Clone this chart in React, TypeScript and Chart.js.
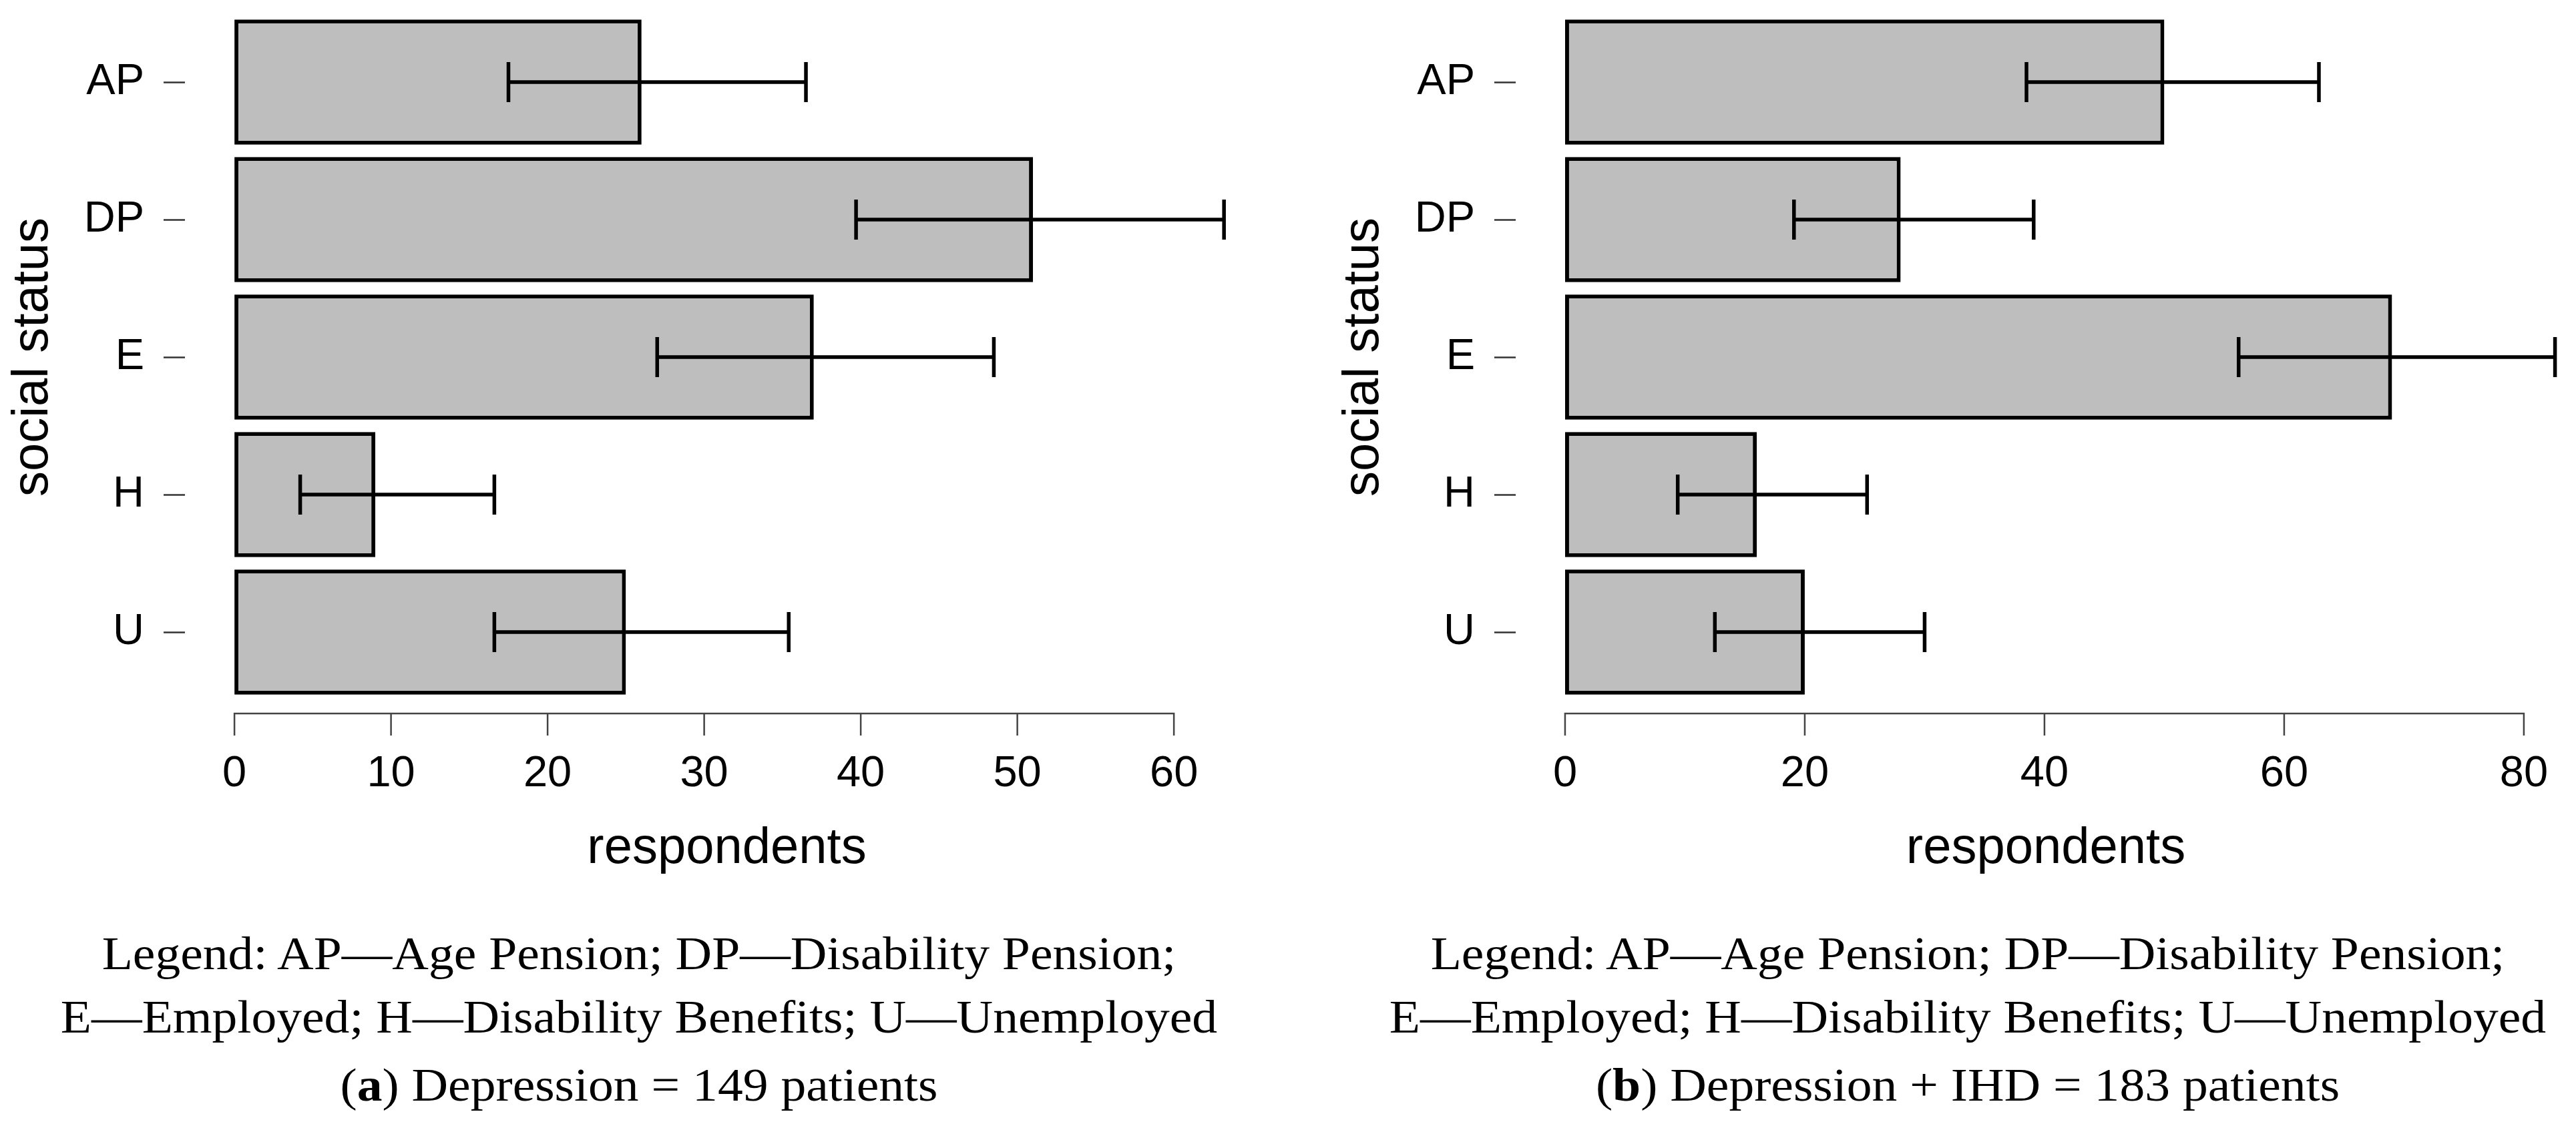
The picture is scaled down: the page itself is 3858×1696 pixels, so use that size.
import React, { useEffect, useRef } from "react";
import { Chart, registerables } from "chart.js";

Chart.register(...registerables);

// ---------- data ----------
const categories = ["AP", "DP", "E", "H", "U"];

const depressionCounts = [26, 51, 37, 9, 25];
const depressionLower = [17.5, 39.7, 27.0, 4.2, 16.6];
const depressionUpper = [36.5, 63.2, 48.5, 16.6, 35.4];
const depressionTicks = [0, 10, 20, 30, 40, 50, 60];

const comorbidCounts = [50, 28, 69, 16, 20];
const comorbidLower = [38.5, 19.1, 56.2, 9.4, 12.5];
const comorbidUpper = [62.9, 39.1, 82.6, 25.2, 30.0];
const comorbidTicks = [0, 20, 40, 60, 80];

const yAxisTitle = "social status";
const xAxisTitle = "respondents";
const legendLine1 = "Legend: AP\u2014Age Pension; DP\u2014Disability Pension;";
const legendLine2 = "E\u2014Employed; H\u2014Disability Benefits; U\u2014Unemployed";
const captionA = { tag: "a", text: " Depression = 149 patients" };
const captionB = { tag: "b", text: " Depression + IHD = 183 patients" };

// ---------- plugins ----------
const rAxisPlugin = {
  id: "rAxis",
  afterDraw(chart: any, _args: any, opts: any) {
    const { ctx, chartArea } = chart;
    const xs = chart.scales.x;
    const ticks = xs.ticks;
    if (!ticks || !ticks.length) return;
    const y0 = chartArea.bottom + opts.gap;
    const p0 = xs.getPixelForValue(ticks[0].value);
    const p1 = xs.getPixelForValue(ticks[ticks.length - 1].value);
    ctx.save();
    ctx.strokeStyle = opts.color;
    ctx.lineWidth = opts.width;
    ctx.beginPath();
    ctx.moveTo(p0 - opts.width / 2, y0);
    ctx.lineTo(p1 + opts.width / 2, y0);
    for (const t of ticks) {
      const p = xs.getPixelForValue(t.value);
      ctx.moveTo(p, y0);
      ctx.lineTo(p, y0 + opts.len);
    }
    ctx.stroke();
    ctx.restore();
  },
};

const errorBarPlugin = {
  id: "errorBars",
  afterDatasetsDraw(chart: any, _args: any, opts: any) {
    const { ctx } = chart;
    const xs = chart.scales.x;
    const meta = chart.getDatasetMeta(0);
    ctx.save();
    ctx.strokeStyle = opts.color;
    ctx.lineWidth = opts.width;
    ctx.lineCap = "butt";
    meta.data.forEach((el: any, i: number) => {
      const y = el.y;
      const a = xs.getPixelForValue(opts.lower[i]);
      const b = xs.getPixelForValue(opts.upper[i]);
      ctx.beginPath();
      ctx.moveTo(a, y);
      ctx.lineTo(b, y);
      ctx.moveTo(a, y - opts.cap);
      ctx.lineTo(a, y + opts.cap);
      ctx.moveTo(b, y - opts.cap);
      ctx.lineTo(b, y + opts.cap);
      ctx.stroke();
    });
    ctx.restore();
  },
};

const SANS = "'Liberation Sans', Arial, Helvetica, sans-serif";

type PanelProps = {
  counts: number[];
  lower: number[];
  upper: number[];
  ticks: number[];
  min: number;
  max: number;
  left: number;
  width: number;
};

const CANVAS_H = 1318;

function Panel({ counts, lower, upper, ticks, min, max, left, width }: PanelProps) {
  const ref = useRef<HTMLCanvasElement | null>(null);
  useEffect(() => {
    if (!ref.current) return;
    const chart = new Chart(ref.current, {
      type: "bar",
      data: {
        labels: categories,
        datasets: [
          {
            data: counts,
            backgroundColor: "#bebebe",
            borderColor: "#000000",
            borderWidth: 6,
            borderSkipped: false,
            barPercentage: 0.91,
            categoryPercentage: 1,
          },
        ],
      },
      options: {
        indexAxis: "y",
        animation: false,
        responsive: false,
        maintainAspectRatio: false,
        devicePixelRatio: 1,
        layout: { padding: { top: 20, left: 0, right: 0, bottom: 0 } },
        events: [],
        plugins: {
          legend: { display: false },
          tooltip: { enabled: false },
          title: { display: false },
          errorBars: { lower, upper, color: "#000000", width: 5.5, cap: 30 },
          rAxis: { gap: 19, len: 33, width: 2.5, color: "#444444" },
        } as any,
        scales: {
          x: {
            type: "linear",
            min,
            max,
            afterBuildTicks: (scale: any) => {
              scale.ticks = ticks.map((v) => ({ value: v }));
            },
            afterFit: (scale: any) => {
              scale.height = CANVAS_H - 1050;
              scale.paddingLeft = 0;
              scale.paddingRight = 0;
            },
            grid: { display: false },
            border: { display: false },
            ticks: {
              color: "#000000",
              font: { family: SANS, size: 65 },
              padding: 63,
              maxRotation: 0,
              autoSkip: false,
            },
            title: {
              display: true,
              text: xAxisTitle,
              color: "#000000",
              font: { family: SANS, size: 76 },
              padding: { top: 0, bottom: 0 },
            },
          },
          y: {
            type: "category",
            afterFit: (scale: any) => {
              scale.width = 277;
              scale.paddingTop = 0;
              scale.paddingBottom = 0;
            },
            grid: {
              display: true,
              offset: false,
              drawOnChartArea: false,
              drawTicks: true,
              tickLength: 32,
              tickWidth: 2.5,
              tickColor: "#333333",
            },
            border: { display: false },
            ticks: {
              color: "#000000",
              font: { family: SANS, size: 65 },
              padding: 29,
            },
            title: {
              display: true,
              text: yAxisTitle,
              color: "#000000",
              font: { family: SANS, size: 76 },
              padding: { top: 4, bottom: 0 },
            },
          },
        },
      },
      plugins: [errorBarPlugin, rAxisPlugin],
    } as any);
    return () => chart.destroy();
  }, []);
  return (
    <canvas
      ref={ref}
      width={width}
      height={CANVAS_H}
      style={{ position: "absolute", left, top: 0, width, height: CANVAS_H }}
    />
  );
}

const SERIF = "'Liberation Serif', 'Times New Roman', serif";
const CAP_SIZE = 70;

function CaptionLine({ center, baseline, children }: { center: number; baseline: number; children: React.ReactNode }) {
  return (
    <div
      style={{
        position: "absolute",
        left: center - 1000,
        width: 2000,
        top: baseline - 0.8375 * CAP_SIZE,
        textAlign: "center",
        fontFamily: SERIF,
        fontSize: CAP_SIZE,
        lineHeight: `${CAP_SIZE}px`,
        color: "#000",
        whiteSpace: "nowrap",
        transform: "scaleX(1.08)",
        transformOrigin: "center",
      }}
    >
      {children}
    </div>
  );
}

function Caption({ center, tag, text }: { center: number; tag: string; text: string }) {
  return (
    <>
      <CaptionLine center={center} baseline={1453}>{legendLine1}</CaptionLine>
      <CaptionLine center={center} baseline={1548}>{legendLine2}</CaptionLine>
      <CaptionLine center={center} baseline={1650}>
        (<b>{tag}</b>){text}
      </CaptionLine>
    </>
  );
}

export default function App() {
  return (
    <div
      style={{
        position: "absolute",
        left: 0,
        top: 0,
        width: 3858,
        height: 1696,
        background: "#ffffff",
        overflow: "hidden",
      }}
    >
      <Panel
        counts={depressionCounts}
        lower={depressionLower}
        upper={depressionUpper}
        ticks={depressionTicks}
        min={-3.16}
        max={66.05}
        left={0}
        width={1900}
      />
      <Panel
        counts={comorbidCounts}
        lower={comorbidLower}
        upper={comorbidUpper}
        ticks={comorbidTicks}
        min={-4.12}
        max={84.35}
        left={1993}
        width={1865}
      />
      <Caption center={957} tag={captionA.tag} text={captionA.text} />
      <Caption center={2947} tag={captionB.tag} text={captionB.text} />
    </div>
  );
}
